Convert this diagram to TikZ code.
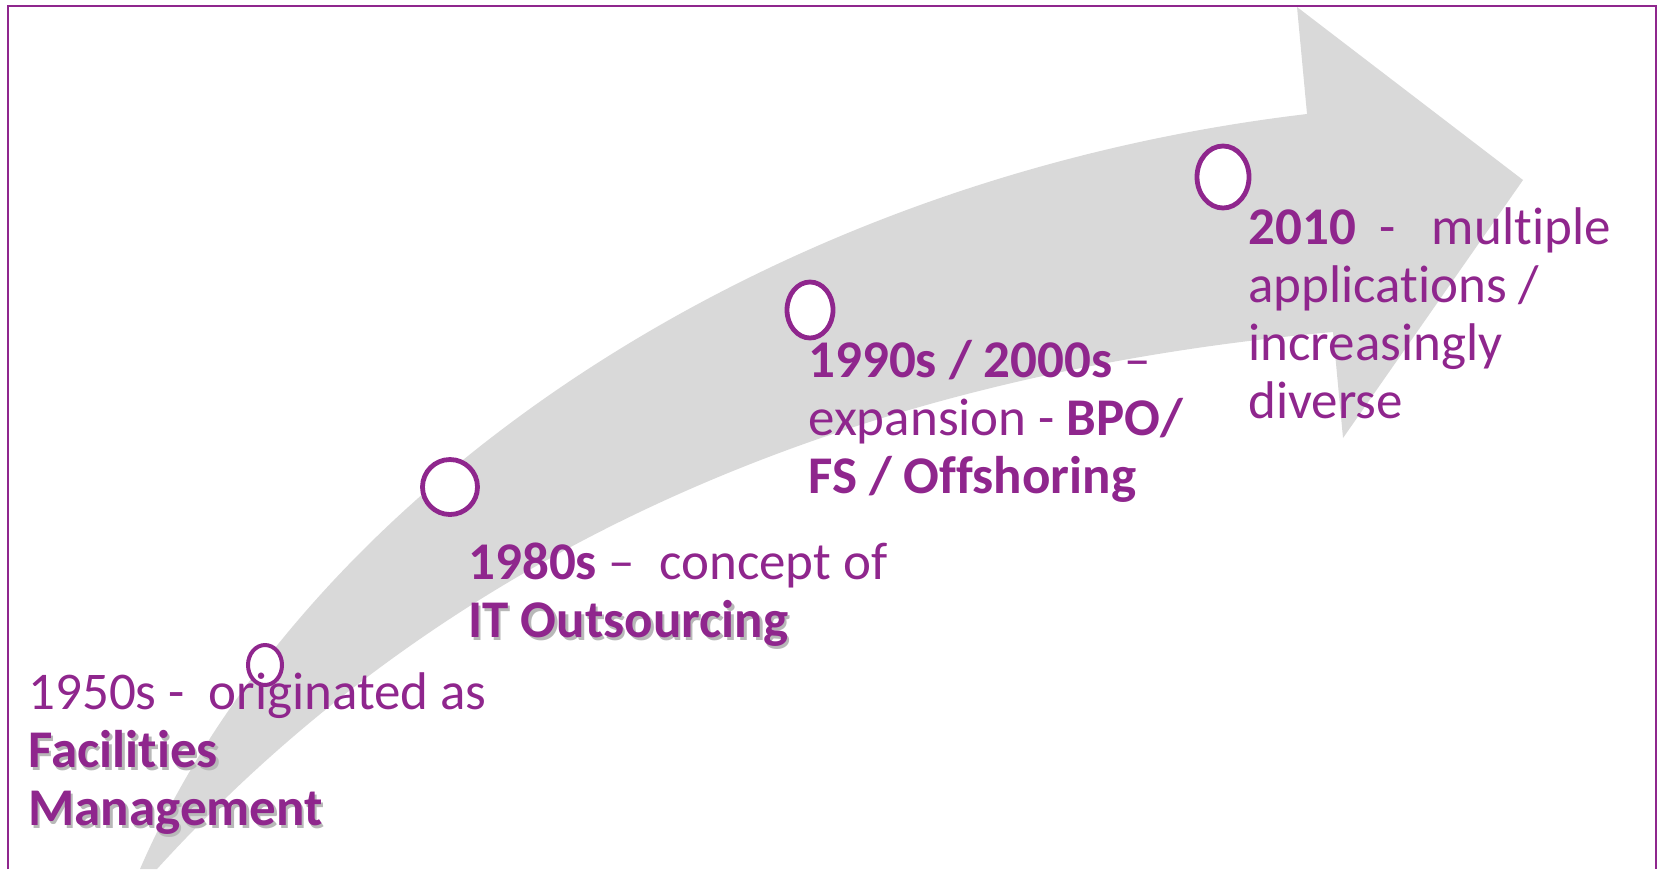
\documentclass[tikz,border=0pt]{standalone}
\usepackage{fontspec}
\setmainfont{Carlito}[Ligatures=NoCommon]
\usetikzlibrary{shapes.geometric}
\definecolor{plum}{RGB}{143,38,141}
\definecolor{arrowgray}{RGB}{217,217,217}
\newcommand{\shd}[1]{\rlap{\hspace{1.2pt}\raisebox{-1.6pt}{\textcolor{black!28}{#1}}}#1}

\begin{document}
\begin{tikzpicture}[x=0.5pt,y=-0.5pt,
	milestone/.style = {draw=plum, line width=2.4pt, fill=white, ellipse, inner sep=0pt},
	era/.style = {text=plum, font=\fontsize{26.5pt}{29pt}\selectfont, align=left, inner sep=0pt, anchor=base west}]
	\useasboundingbox (0,0) rectangle (1657,869);
	% frame
	\draw[plum, line width=1pt] (8,869) -- (8,6) -- (1656,6) -- (1656,869);
	% big arrow
	\fill[arrowgray] (140,869) .. controls (300,500) and (750,180) .. (1307,114)
		-- (1297,7) -- (1523,180) -- (1343,438) -- (1333,332)
		.. controls (800,380) and (420,580) .. (157,869) -- cycle;
	% milestones
	\node[milestone, line width=2pt, minimum width=17pt, minimum height=20pt] (m1) at (265,665) {};
	\node[milestone, minimum width=27.5pt, minimum height=27.5pt] (m2) at (450,487) {};
	\node[milestone, minimum width=23pt, minimum height=28pt] (m3) at (810,310) {};
	\node[milestone, minimum width=26pt, minimum height=31pt] (m4) at (1223,177) {};
	% texts (anchored at the last line)
	\node[era] (t1950) at (28,825) {1950s -\ \ originated as\\ \shd{\textbf{Facilities}}\\ \shd{\textbf{Management}}};
	\node[era] (t1980) at (468,637) {\textbf{1980s} --\ \ concept of\\ \shd{\textbf{IT Outsourcing}}};
	\node[era] (t1990) at (808,493) {\textbf{1990s / 2000s} --\\ expansion - \textbf{BPO/}\\ \textbf{FS / Offshoring}};
	\node[era] (t2010) at (1248,418) {\textbf{2010}\ \ -\ \ \ multiple\\ applications /\\ increasingly\\ diverse};
\end{tikzpicture}
\end{document}
